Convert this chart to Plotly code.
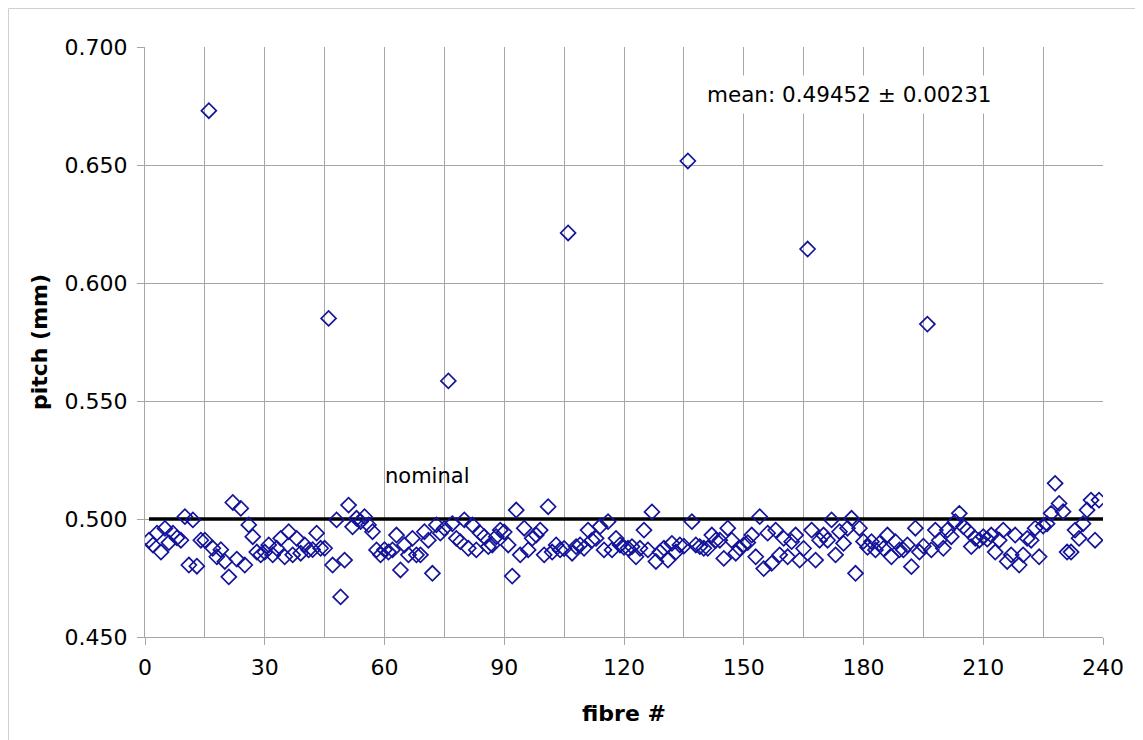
import plotly.graph_objects as go

fibre = list(range(1, 240))
pitch = [
    0.491, 0.489, 0.494, 0.486, 0.496, 0.490, 0.494, 0.492, 0.491, 0.501,   # 1-10
    0.4805, 0.4996, 0.480, 0.491, 0.491, 0.673, 0.4876, 0.484, 0.487, 0.482,  # 11-20
    0.4755, 0.507, 0.483, 0.5045, 0.4805, 0.4975, 0.4925, 0.486, 0.4848, 0.486,  # 21-30
    0.489, 0.4848, 0.4876, 0.4918, 0.484, 0.4946, 0.4848, 0.4918, 0.4855, 0.489,  # 31-40
    0.4869, 0.487, 0.494, 0.4876, 0.4876, 0.585, 0.4805, 0.4996, 0.467, 0.4826,  # 41-50
    0.5059, 0.4967, 0.5003, 0.4989, 0.501, 0.4975, 0.4946, 0.4869, 0.4848, 0.487,  # 51-60
    0.486, 0.4869, 0.4932, 0.4784, 0.489, 0.4848, 0.4918, 0.4848, 0.4848, 0.4946,  # 61-70
    0.491, 0.477, 0.4975, 0.494, 0.496, 0.5585, 0.498, 0.4918, 0.4904, 0.4996,  # 71-80
    0.4876, 0.4975, 0.4869, 0.494, 0.4925, 0.4883, 0.489, 0.4925, 0.4953, 0.4945,  # 81-90
    0.489, 0.4758, 0.5038, 0.4848, 0.4961, 0.4869, 0.4918, 0.4932, 0.4953, 0.4848,  # 91-100
    0.5052, 0.486, 0.489, 0.4869, 0.4875, 0.6212, 0.4855, 0.4883, 0.489, 0.4876,  # 101-110
    0.4953, 0.491, 0.4918, 0.4968, 0.4869, 0.4989, 0.4869, 0.4918, 0.489, 0.488,  # 111-120
    0.4876, 0.4883, 0.484, 0.4876, 0.4953, 0.4869, 0.503, 0.482, 0.486, 0.4876,  # 121-130
    0.4826, 0.4897, 0.486, 0.489, 0.4885, 0.6517, 0.4989, 0.489, 0.4883, 0.4876,  # 131-140
    0.4876, 0.4932, 0.491, 0.491, 0.4833, 0.4961, 0.491, 0.4855, 0.4876, 0.489,  # 141-150
    0.490, 0.4932, 0.484, 0.501, 0.479, 0.494, 0.4812, 0.4953, 0.4848, 0.4918,  # 151-160
    0.484, 0.4904, 0.4932, 0.4826, 0.4875, 0.6144, 0.4953, 0.4826, 0.491, 0.4932,  # 161-170
    0.491, 0.4996, 0.4848, 0.4946, 0.4897, 0.4961, 0.5003, 0.477, 0.4961, 0.4905,  # 171-180
    0.488, 0.4904, 0.4869, 0.4897, 0.4875, 0.4932, 0.484, 0.4904, 0.4869, 0.4869,  # 181-190
    0.489, 0.4798, 0.4961, 0.486, 0.4885, 0.5826, 0.4869, 0.4953, 0.491, 0.4876,  # 191-200
    0.4953, 0.4925, 0.4989, 0.5024, 0.4968, 0.4953, 0.4883, 0.4918, 0.491, 0.4925,  # 201-210
    0.4915, 0.4932, 0.486, 0.491, 0.4953, 0.482, 0.4848, 0.4932, 0.4805, 0.4848,  # 211-220
    0.4918, 0.491, 0.4961, 0.484, 0.497, 0.498, 0.5024, 0.5151, 0.5066, 0.5031,  # 221-230
    0.486, 0.486, 0.4953, 0.4918, 0.498, 0.5038, 0.508, 0.491, 0.508,          # 231-239
]

nominal_x = [1, 240]
nominal_y = [0.500, 0.500]

x_ticks = [0, 30, 60, 90, 120, 150, 180, 210, 240]
y_ticks = [0.450, 0.500, 0.550, 0.600, 0.650, 0.700]
y_tick_text = ["0.450", "0.500", "0.550", "0.600", "0.650", "0.700"]

mean_label = "mean: 0.49452 ± 0.00231"
nominal_label = "nominal"

FONT = "DejaVu Sans, Verdana, sans-serif"
GRID = "#a6a6a6"
MARK = "#14149a"

W, H = 1135, 732
L, T, R, B = 137, 39, 40, 103
plot_w = W - L - R
plot_h = H - T - B

fig = go.Figure()
fig.add_trace(go.Scatter(
    x=nominal_x, y=nominal_y, mode="lines",
    line=dict(color="black", width=3.5), hoverinfo="skip", showlegend=False,
))
fig.add_trace(go.Scatter(
    x=fibre, y=pitch, mode="markers",
    marker=dict(symbol="diamond-open", size=11.5, color=MARK, line=dict(width=1.7, color=MARK)),
    showlegend=False,
))

fig.update_layout(
    width=W, height=H,
    margin=dict(l=L, r=R, t=T, b=B),
    paper_bgcolor="white", plot_bgcolor="white",
    font=dict(family=FONT, size=22, color="black"),
    xaxis=dict(
        range=[0, 240], tickmode="array", tickvals=x_ticks,
        ticks="outside", ticklen=7, tickcolor=GRID, tickwidth=1,
        ticklabelstandoff=4,
        showgrid=True, gridcolor=GRID, gridwidth=1,
        minor=dict(dtick=15, tick0=0, showgrid=True, gridcolor=GRID, gridwidth=1, ticks=""),
        showline=True, linecolor=GRID, linewidth=1, mirror=False,
        zeroline=False,
        tickfont=dict(family=FONT, size=22, color="black"),
        title=dict(text="<b>fibre #</b>", font=dict(family=FONT, size=22, color="black"), standoff=26),
    ),
    yaxis=dict(
        range=[0.45, 0.70], tickmode="array", tickvals=y_ticks, ticktext=y_tick_text,
        ticks="outside", ticklen=7, tickcolor=GRID, tickwidth=1,
        ticklabelstandoff=5,
        showgrid=True, gridcolor=GRID, gridwidth=1,
        showline=True, linecolor=GRID, linewidth=1,
        zeroline=False,
        tickfont=dict(family=FONT, size=22, color="black"),
        title=dict(text="<b>pitch (mm)</b>", font=dict(family=FONT, size=22, color="black"), standoff=10),
    ),
    annotations=[
        dict(x=59.6, y=0.5182, xref="x", yref="y", text=nominal_label, showarrow=False,
             xanchor="left", yanchor="middle", font=dict(family=FONT, size=21, color="black")),
        dict(x=139.0, y=0.6797, xref="x", yref="y", text=mean_label, showarrow=False,
             xanchor="left", yanchor="middle", bgcolor="white", borderpad=6,
             font=dict(family=FONT, size=21.5, color="black")),
    ],
    shapes=[
        dict(type="rect", xref="paper", yref="paper",
             x0=-(L - 0.5) / plot_w, x1=1.2, y0=-0.3, y1=1 + (T - 0.5) / plot_h,
             line=dict(color="#d0d0d0", width=1), fillcolor="rgba(0,0,0,0)", layer="below"),
    ],
)

fig.write_html("out.html")
